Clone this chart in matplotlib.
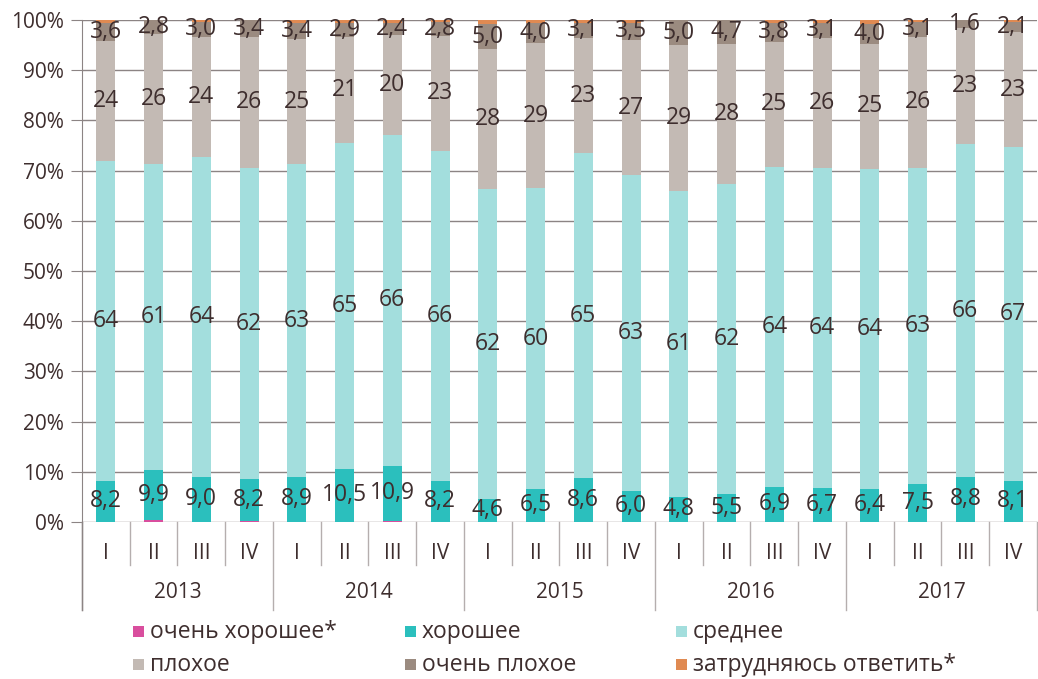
"""Quarterly assessment shares, 2013-2017, as a 100% stacked bar chart."""
import numpy as np
import matplotlib
matplotlib.use("Agg")
import matplotlib.pyplot as plt
from matplotlib.patches import Rectangle
from matplotlib.transforms import blended_transform_factory

plt.rcParams["font.family"] = ["Open Sans", "DejaVu Sans"]

years = ["2013", "2014", "2015", "2016", "2017"]
quarters = ["I", "II", "III", "IV"]

very_good = [0.1, 0.5, 0.1, 0.3, 0.1, 0.1, 0.3, 0.1, 0.1, 0.1,
             0.1, 0.1, 0.1, 0.1, 0.1, 0.1, 0.1, 0.1, 0.1, 0.1]
good = [8.2, 9.9, 9.0, 8.2, 8.9, 10.5, 10.9, 8.2, 4.6, 6.5,
        8.6, 6.0, 4.8, 5.5, 6.9, 6.7, 6.4, 7.5, 8.8, 8.1]
average = [64, 61, 64, 62, 63, 65, 66, 66, 62, 60,
           65, 63, 61, 62, 64, 64, 64, 63, 66, 67]
bad = [24, 26, 24, 26, 25, 21, 20, 23, 28, 29,
       23, 27, 29, 28, 25, 26, 25, 26, 23, 23]
very_bad = [3.6, 2.8, 3.0, 3.4, 3.4, 2.9, 2.4, 2.8, 5.0, 4.0,
            3.1, 3.5, 5.0, 4.7, 3.8, 3.1, 4.0, 3.1, 1.6, 2.1]
hard_to_say = [0.5, 0.0, 0.3, 0.0, 0.5, 0.5, 0.5, 0.3, 0.8, 0.6,
               0.5, 0.5, 0.0, 0.0, 0.5, 0.5, 0.7, 0.3, 0.0, 0.4]

names = ["очень хорошее*", "хорошее", "среднее",
         "плохое", "очень плохое", "затрудняюсь ответить*"]
colors = ["#D94E9E", "#2BBFBD", "#A3DEDD", "#C3BAB4", "#9B8B80", "#E08A52"]
TXT = "#3E2E2E"
GRID = "#8C8484"

series = np.array([very_good, good, average, bad, very_bad, hard_to_say], float)
shares = series / series.sum(axis=0) * 100  # 100% stacked
n = shares.shape[1]
x = np.arange(n)

fig = plt.figure(figsize=(10.38, 6.79), dpi=100)
ax = fig.add_axes([0.079, 0.2312, 0.920, 0.7393])

bottom = np.zeros(n)
segs = []
for vals, c in zip(shares, colors):
    ax.bar(x, vals, 0.4, bottom=bottom, color=c, zorder=2, linewidth=0)
    segs.append((bottom.copy(), vals))
    bottom += vals

def fmt(v, dec):
    return f"{v:.{dec}f}".replace(".", ",")

# value labels: good, average, bad, very bad
for idx, raw, dec in [(1, good, 1), (2, average, 0), (3, bad, 0), (4, very_bad, 1)]:
    b, h = segs[idx]
    for i in range(n):
        ax.text(x[i], b[i] + h[i] / 2, fmt(raw[i], dec), ha="center", va="center",
                fontsize=16.5, color=TXT, zorder=3)

ax.set_xlim(-0.5, n - 0.5)
ax.set_ylim(0, 100)
ax.set_yticks(np.arange(0, 101, 10))
ax.set_yticklabels([f"{v}%" for v in range(0, 101, 10)], fontsize=15, color=TXT)
ax.yaxis.grid(True, color=GRID, linewidth=1)
ax.set_axisbelow(True)
ax.tick_params(axis="y", length=8, color=GRID, pad=5)
for s in ["top", "right", "bottom"]:
    ax.spines[s].set_visible(False)
ax.spines["left"].set_color(GRID)

# two-level category axis
ax.set_xticks(x)
ax.set_xticklabels(quarters * len(years), fontsize=15, color=TXT)
ax.tick_params(axis="x", length=0, pad=15)
tr = blended_transform_factory(ax.transData, ax.transAxes)
for k in range(n + 1):
    low = -0.175 if k % 4 == 0 else -0.086
    ax.plot([k - 0.5, k - 0.5], [0, low], transform=tr, color="#B5AEAE",
            linewidth=1, clip_on=False)
ax.plot([-0.5, -0.5], [0, -0.175], transform=tr, color=GRID, linewidth=1, clip_on=False)
for j, yr in enumerate(years):
    ax.text(j * 4 + 1.5, -0.141, yr, transform=tr, ha="center", va="center",
            fontsize=15, color=TXT)

# legend, laid out in two rows of three
col_x = [133, 405, 676]
row_y = [632, 665]
W, H = 1038, 679
for i, (nm, c) in enumerate(zip(names, colors)):
    cx = col_x[i % 3]
    cy = row_y[i // 3]
    fig.add_artist(Rectangle((cx / W, 1 - (cy + 5) / H), 11 / W, 11 / H,
                             transform=fig.transFigure, color=c, linewidth=0))
    fig.text((cx + 17) / W, 1 - cy / H, nm, ha="left", va="center",
             fontsize=16.5, color=TXT)

fig.savefig("out.png", dpi=100)
